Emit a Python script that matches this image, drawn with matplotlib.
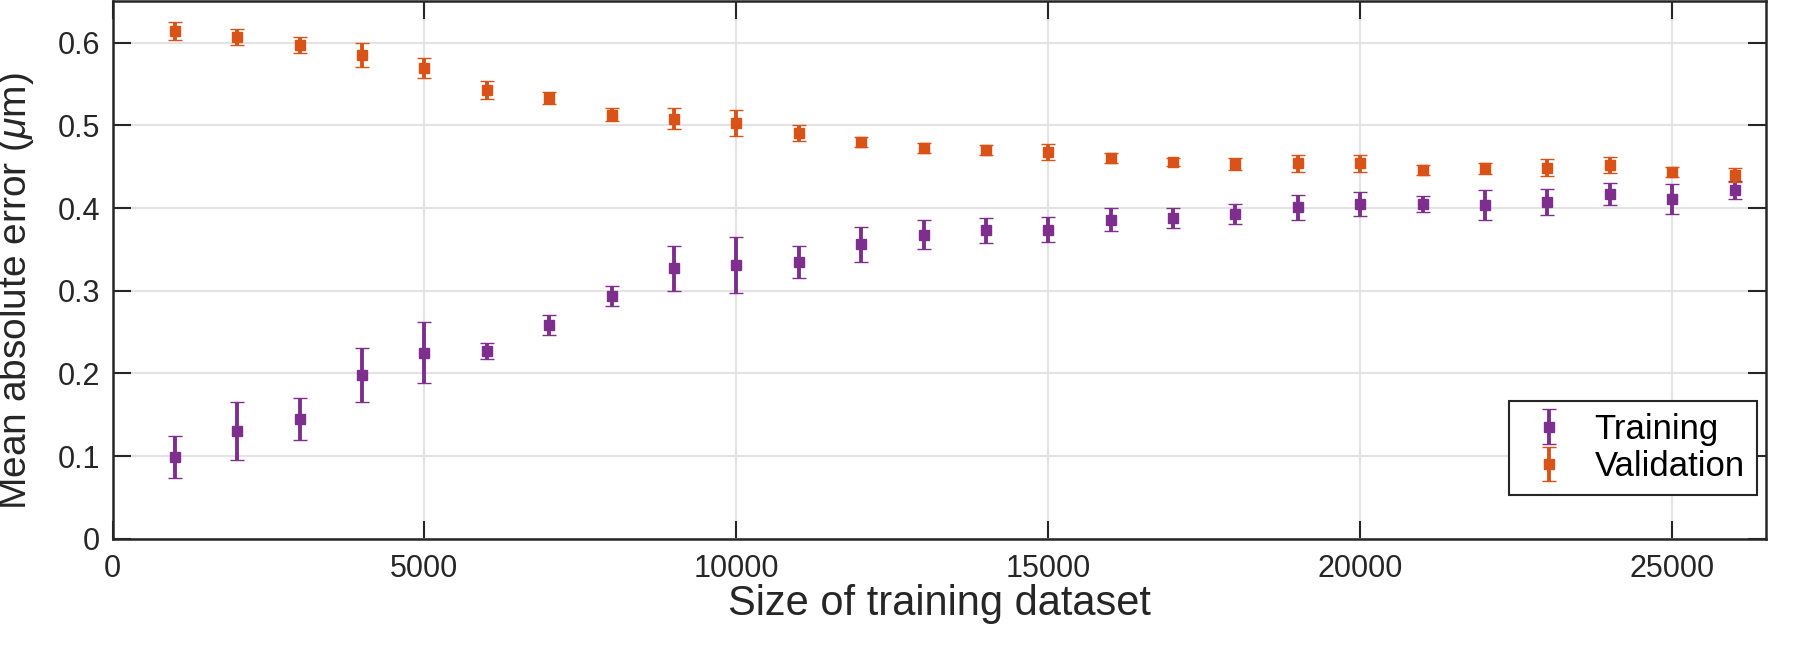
import matplotlib
matplotlib.use("Agg")
import matplotlib.pyplot as plt
import numpy as np

sizes = [1000, 2000, 3000, 4000, 5000, 6000, 7000, 8000, 9000, 10000, 11000, 12000, 13000,
         14000, 15000, 16000, 17000, 18000, 19000, 20000, 21000, 22000, 23000, 24000, 25000, 26000]
train_mean = [0.099, 0.130, 0.145, 0.198, 0.225, 0.227, 0.259, 0.294, 0.327, 0.331, 0.335, 0.356, 0.368,
              0.373, 0.374, 0.386, 0.388, 0.393, 0.401, 0.405, 0.405, 0.404, 0.407, 0.417, 0.411, 0.422]
train_err = [0.025, 0.035, 0.025, 0.033, 0.037, 0.010, 0.012, 0.012, 0.027, 0.034, 0.019, 0.021, 0.017,
             0.015, 0.015, 0.014, 0.012, 0.012, 0.015, 0.015, 0.010, 0.018, 0.016, 0.013, 0.018, 0.011]
val_mean = [0.614, 0.607, 0.597, 0.585, 0.569, 0.543, 0.533, 0.513, 0.508, 0.503, 0.491, 0.480, 0.473,
            0.470, 0.468, 0.461, 0.456, 0.453, 0.454, 0.454, 0.446, 0.448, 0.449, 0.452, 0.444, 0.440]
val_err = [0.011, 0.010, 0.010, 0.014, 0.012, 0.011, 0.007, 0.008, 0.013, 0.016, 0.010, 0.006, 0.006,
           0.006, 0.010, 0.006, 0.005, 0.007, 0.010, 0.010, 0.006, 0.007, 0.010, 0.010, 0.006, 0.008]
xticks = [0, 5000, 10000, 15000, 20000, 25000]
yticks = [0, 0.1, 0.2, 0.3, 0.4, 0.5, 0.6]

plt.rcParams['font.family'] = ['Liberation Sans', 'DejaVu Sans']
plt.rcParams['mathtext.fontset'] = 'custom'
plt.rcParams['mathtext.it'] = 'Liberation Sans:italic'
plt.rcParams['mathtext.rm'] = 'Liberation Sans'

fig = plt.figure(figsize=(18, 6.5), dpi=100)
ax = fig.add_axes([0.0625, 0.171, 0.9185, 0.827])

purple = '#7E2F8E'
orange = '#D95319'
axcol = '#262626'

ax.errorbar(sizes, train_mean, yerr=train_err, fmt='s', color=purple, ecolor=purple,
            markersize=7.5, markeredgewidth=1, elinewidth=2.8, capsize=5, capthick=2.8,
            label='Training', zorder=3)
ax.errorbar(sizes, val_mean, yerr=val_err, fmt='s', color=orange, ecolor=orange,
            markersize=7.5, markeredgewidth=1, elinewidth=2.8, capsize=5, capthick=2.8,
            label='Validation', zorder=3)

ax.set_xlim(0, 26500)
ax.set_ylim(0, 0.65)
ax.set_xticks(xticks)
ax.set_yticks(yticks)
ax.set_xticklabels([str(t) for t in xticks])
ax.set_yticklabels(['0'] + ['%.1f' % t for t in yticks[1:]])
ax.grid(True, color='#E3E3E3', linewidth=1.5, zorder=0)
ax.set_axisbelow(True)
ax.tick_params(direction='in', length=13, width=1.5, colors=axcol, labelsize=22,
               top=True, right=True, pad=9)
ax.tick_params(axis='x', pad=11)
for s in ax.spines.values():
    s.set_color(axcol)
    s.set_linewidth(1.8)

ax.set_xlabel('Size of training dataset', fontsize=30, color=axcol, labelpad=0)
ax.set_ylabel(r'Mean absolute error ($\mu$m)', fontsize=28, color=axcol)
ax.yaxis.set_label_coords(-0.046, 0.46)

leg = ax.legend(loc='lower right', bbox_to_anchor=(0.9945, 0.081), fontsize=25, frameon=True,
                fancybox=False, framealpha=1, edgecolor=axcol, borderpad=0.35,
                handletextpad=0.5, handlelength=1.6, labelspacing=0.12, borderaxespad=0.0)
leg.get_frame().set_linewidth(1.5)

fig.savefig('out.png', dpi=100)
